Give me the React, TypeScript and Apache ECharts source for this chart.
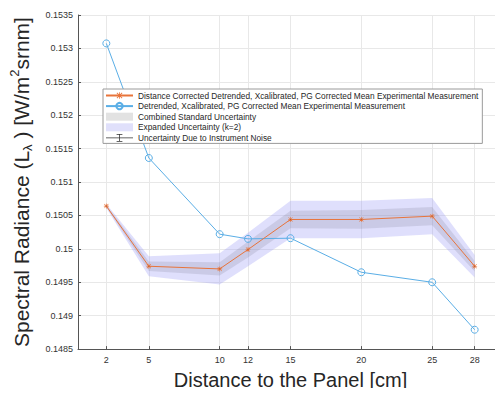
import React, { useEffect, useRef } from "react";
import * as echarts from "echarts";

const distances = [2, 5, 10, 12, 15, 20, 25, 28];
const correctedMean = [0.15064, 0.14974, 0.1497, 0.14999, 0.15044, 0.15044, 0.15049, 0.14974];
const uncorrectedMean = [0.153075, 0.15136, 0.15022, 0.15015, 0.15016, 0.14965, 0.1495, 0.14879];
const combinedU = [0.000015, 0.00007, 0.0001, 0.00012, 0.00013, 0.00014, 0.000135, 0.00008];
const expandedU = [0.00003, 0.00015, 0.000235, 0.00025, 0.00028, 0.00028, 0.00027, 0.00017];
const noiseU = [0.000004, 0.000004, 0.000004, 0.000004, 0.000004, 0.000004, 0.000004, 0.000004];
const xTicks = [2, 5, 10, 12, 15, 20, 25, 28];

const NAME_CORR = "Distance Corrected Detrended, Xcalibrated, PG Corrected Mean Experimental Measurement";
const NAME_RAW = "Detrended, Xcalibrated, PG Corrected Mean Experimental Measurement";
const NAME_COMB = "Combined Standard Uncertainty";
const NAME_EXP = "Expanded Uncertainty (k=2)";
const NAME_NOISE = "Uncertainty Due to Instrument Noise";

const FONT = "'Liberation Sans', Arial, Helvetica, sans-serif";
const ORANGE = "#e8743b";
const BLUE = "#5aaee6";

const asterisk =
  "path://M4.4,0h1.2v10h-1.2z M0,4.4h10v1.2h-10z M1.3,0.5l8.2,8.2l-0.8,0.8l-8.2,-8.2z M8.7,0.5l0.8,0.8l-8.2,8.2l-0.8,-0.8z";
const errorIcon = "path://M0,3.6h28v0.8h-28z M13.6,0h0.8v8h-0.8z M11,0h6v0.8h-6z M11,7.2h6v0.8h-6z";

function bandSeries(name: string, u: number[], fill: string, legendColor: string, z: number) {
  return {
    name,
    type: "custom",
    z,
    itemStyle: { color: legendColor },
    data: distances.map((d, i) => [d, correctedMean[i] - u[i], correctedMean[i] + u[i]]),
    encode: { x: 0, y: [1, 2] },
    renderItem: (params: any, api: any) => {
      if (params.dataIndexInside !== 0) return null;
      const n = params.dataInsideLength;
      const upper: number[][] = [];
      const lower: number[][] = [];
      for (let i = 0; i < n; i++) {
        const x = api.value(0, i);
        upper.push(api.coord([x, api.value(2, i)]));
        lower.push(api.coord([x, api.value(1, i)]));
      }
      const points = upper.concat(lower.reverse());
      return {
        type: "polygon",
        shape: { points },
        style: { fill, stroke: "none" },
        silent: true,
      };
    },
  };
}

export default function App() {
  const ref = useRef<HTMLDivElement>(null);

  useEffect(() => {
    if (!ref.current) return;
    const chart = echarts.init(ref.current, undefined, { renderer: "svg" });

    const pairs = (vals: number[]) => distances.map((d, i) => [d, vals[i]]);

    const option: any = {
      animation: false,
      backgroundColor: "#ffffff",
      grid: { left: 78, top: 15, right: -1, bottom: 43, containLabel: false },
      xAxis: {
        type: "value",
        min: 0,
        max: 30,
        name: "Distance to the Panel [cm]",
        nameLocation: "middle",
        nameGap: 15,
        nameTextStyle: { fontFamily: FONT, fontSize: 20, color: "#262626", lineHeight: 22 },
        axisLine: { show: true, onZero: false, lineStyle: { color: "#555", width: 1 } },
        axisTick: { show: true, inside: true, length: 3, customValues: xTicks, lineStyle: { color: "#555" } },
        axisLabel: {
          customValues: xTicks,
          fontFamily: FONT,
          fontSize: 9,
          color: "#333",
          margin: 6,
        },
        splitLine: { show: true, lineStyle: { color: "#e8e8e8", width: 1 } },
      },
      yAxis: {
        type: "value",
        min: 0.1485,
        max: 0.1535,
        interval: 0.0005,
        name: "Spectral Radiance (L{sub|λ} ) [W/m{sup|2}srnm]",
        nameLocation: "middle",
        nameGap: 44,
        nameTextStyle: {
          fontFamily: FONT,
          fontSize: 21,
          color: "#262626",
          lineHeight: 26,
          rich: {
            sub: { fontFamily: FONT, fontSize: 13, color: "#262626", lineHeight: 13, verticalAlign: "bottom" },
            sup: { fontFamily: FONT, fontSize: 13, color: "#262626", lineHeight: 13, verticalAlign: "top" },
          },
        },
        axisLine: { show: true, lineStyle: { color: "#555", width: 1 } },
        axisTick: { show: true, inside: true, length: 3, lineStyle: { color: "#555" } },
        axisLabel: {
          fontFamily: FONT,
          fontSize: 9,
          color: "#333",
          margin: 5,
          formatter: (v: number) => String(parseFloat(v.toFixed(4))),
        },
        splitLine: { show: true, lineStyle: { color: "#e8e8e8", width: 1 } },
      },
      legend: {
        orient: "vertical",
        left: 103,
        top: 89,
        padding: [2, 4, 1, 2],
        itemWidth: 27,
        itemHeight: 8,
        itemGap: 1.6,
        backgroundColor: "#ffffff",
        borderColor: "#9a9a9a",
        borderWidth: 1,
        borderRadius: 0,
        textStyle: { fontFamily: FONT, fontSize: 8.3, color: "#262626", lineHeight: 9 },
        data: [
          { name: NAME_CORR },
          { name: NAME_RAW },
          { name: NAME_COMB, icon: "rect", itemStyle: { color: "#e2e2e2", borderWidth: 0 } },
          { name: NAME_EXP, icon: "rect", itemStyle: { color: "#e0e0fb", borderWidth: 0 } },
          { name: NAME_NOISE, icon: errorIcon, itemStyle: { color: "#333" } },
        ],
      },
      series: [
        bandSeries(NAME_EXP, expandedU, "rgba(150,150,245,0.3)", "#e0e0fb", 1),
        bandSeries(NAME_COMB, combinedU, "rgba(90,90,110,0.15)", "#e2e2e2", 2),
        {
          name: NAME_RAW,
          type: "line",
          data: pairs(uncorrectedMean),
          symbol: "circle",
          symbolSize: 7,
          lineStyle: { color: BLUE, width: 1 },
          itemStyle: { color: "rgba(255,255,255,0)", borderColor: BLUE, borderWidth: 1 },
          z: 3,
        },
        {
          name: NAME_CORR,
          type: "line",
          data: pairs(correctedMean),
          symbol: asterisk,
          symbolSize: 5,
          lineStyle: { color: ORANGE, width: 1 },
          itemStyle: { color: ORANGE },
          z: 4,
        },
        {
          name: NAME_NOISE,
          type: "custom",
          itemStyle: { color: "#333" },
          data: distances.map((d, i) => [d, correctedMean[i], noiseU[i]]),
          encode: { x: 0, y: 1 },
          renderItem: (params: any, api: any) => {
            const x = api.value(0);
            const y = api.value(1);
            const e = api.value(2);
            const top = api.coord([x, y + e]);
            const bot = api.coord([x, y - e]);
            return {
              type: "line",
              shape: { x1: top[0], y1: top[1], x2: bot[0], y2: bot[1] },
              style: { stroke: "#333", lineWidth: 0.6 },
            };
          },
          z: 5,
        },
      ],
    };

    chart.setOption(option);
    return () => chart.dispose();
  }, []);

  return <div ref={ref} style={{ width: 503, height: 396, margin: -8 }} />;
}
